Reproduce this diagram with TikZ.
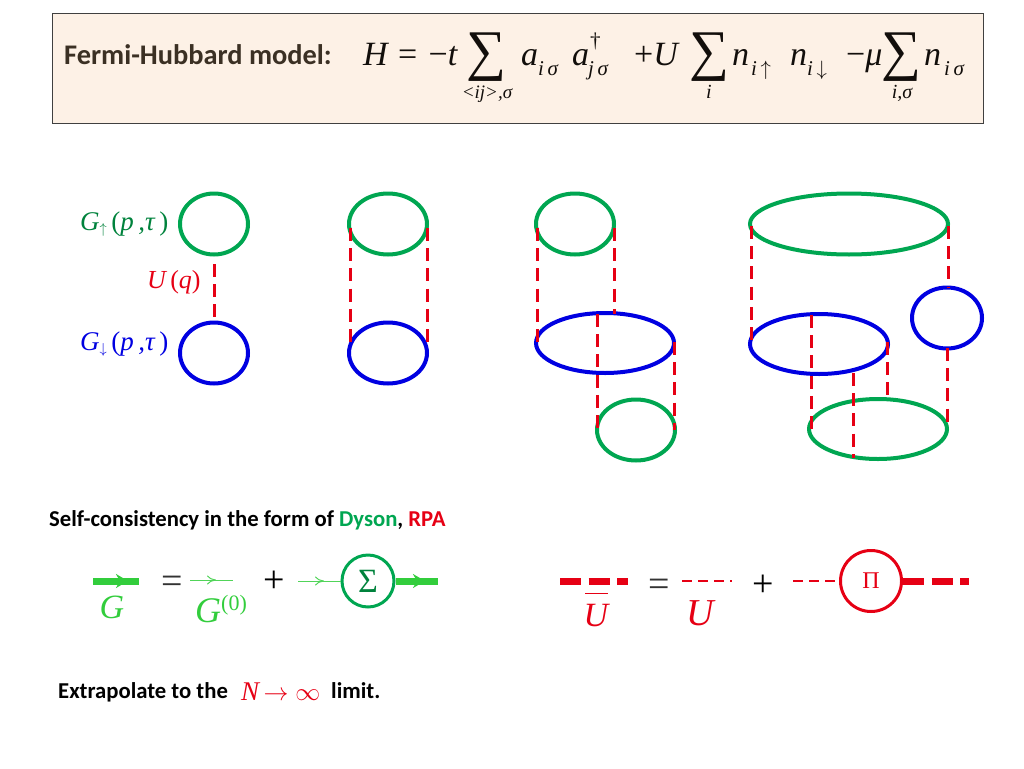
\documentclass[tikz,border=0pt]{standalone}
\usepackage{fontspec}
\usepackage{amsmath}
\setmainfont{Carlito}
\newfontfamily\formula{Liberation Serif}
\usetikzlibrary{shapes.geometric,arrows.meta}
\definecolor{headfill}{RGB}{253,241,230}
\definecolor{headtext}{RGB}{59,48,36}
\definecolor{loopgreen}{RGB}{0,166,81}
\definecolor{labelgreen}{RGB}{0,130,60}
\definecolor{linegreen}{RGB}{50,205,60}
\definecolor{loopblue}{RGB}{0,0,225}
\definecolor{linered}{RGB}{230,0,20}
\newcommand{\fs}[1]{\fontsize{#1}{#1}\selectfont}
\newcommand{\itf}{\formula\itshape}
\tikzset{
	upring/.style={ellipse,draw=loopgreen,line width=4pt,inner sep=0pt,outer sep=0pt},
	downring/.style={ellipse,draw=loopblue,line width=4pt,inner sep=0pt,outer sep=0pt},
	redline/.style={draw=linered,line width=3pt,dash pattern=on 13pt off 7.2pt},
	bold/.style={font=\fs{22.7}\bfseries,anchor=base west,inner sep=0pt},
	eq/.style={font=\fs{34}\itf,anchor=base west,inner sep=0pt,headtext!30!black},
	sub/.style={font=\fs{21}\itf,anchor=base west,inner sep=0pt,headtext!30!black},
	under/.style={font=\fs{20}\itf,anchor=base,inner sep=0pt,headtext!30!black},
	bigsum/.style={font=\fs{56}\formula,inner sep=0pt,headtext!30!black},
	glabel/.style={font=\fs{27}\itf,anchor=base west,inner sep=0pt},
	bigsym/.style={font=\fs{38}\formula,inner sep=0pt},
	gbold/.style={draw=linegreen,line width=7pt},
	gthin/.style={draw=linegreen!85,line width=1pt},
	ghead/.style={draw=linegreen,line width=2pt,-{Stealth[length=12pt,width=14pt]}},
	ubold/.style={draw=linered,line width=7pt,dash pattern=on 21pt off 7.5pt on 21pt off 7.5pt on 11pt off 50pt},
	uthin/.style={draw=linered,line width=1.5pt,dash pattern=on 10pt off 6pt},
}
\begin{document}
\begin{tikzpicture}[x=1pt,y=-1pt]
	\useasboundingbox (0,0) rectangle (1024,768);

	\node[draw=black!75,line width=1pt,fill=headfill,minimum width=931pt,minimum height=109pt,inner sep=0pt] (header) at (517.5,68.5) {};
	\node[font=\fs{28.4}\bfseries,anchor=base west,inner sep=0pt,headtext] (title) at (64,64) {Fermi-Hubbard model:};
	\node[eq] (ham) at (363,66) {H};
	\node[eq] (eqt) at (398,66) {{\upshape =\,\,−}t};
	\node[bigsum] (sumA) at (486,57) {∑};
	\node[under,font=\fs{19}\itf] (subA) at (487,98) {<ij>,σ};
	\node[eq] (aa) at (521,66) {a};
	\node[sub] (aai) at (538,75) {i\,σ};
	\node[eq] (ab) at (572,66) {a};
	\node[sub] (abd) at (590,48) {\upshape †};
	\node[sub] (abj) at (588,75) {j\,σ};
	\node[eq] (plusU) at (634,66) {{\upshape +}U};
	\node[bigsum] (sumB) at (709,57) {∑};
	\node[under] (subB) at (709,98) {i};
	\node[eq] (na) at (732,66) {n};
	\node[sub] (nai) at (751,75) {i\,$\uparrow$};
	\node[eq] (nb) at (790,66) {n};
	\node[sub] (nbi) at (807,75) {i\,$\downarrow$};
	\node[eq] (mu) at (846,66) {{\upshape −}μ};
	\node[bigsum] (sumC) at (901,57) {∑};
	\node[under] (subC) at (902,98) {i,σ};
	\node[eq] (nc) at (924,66) {n};
	\node[sub] (nci) at (944,75) {i\,σ};

	\node[upring,minimum width=68pt,minimum height=61pt] (upA) at (214,224) {};
	\node[downring,minimum width=68pt,minimum height=61pt] (downA) at (214,353) {};
	\node[upring,minimum width=78pt,minimum height=61pt] (upB) at (388,224) {};
	\node[downring,minimum width=78pt,minimum height=61pt] (downB) at (388,353) {};
	\node[upring,minimum width=78pt,minimum height=61pt] (upC) at (575,224) {};
	\node[downring,minimum width=138pt,minimum height=60pt] (downC) at (605,343) {};
	\node[upring,minimum width=78pt,minimum height=61pt] (lowC) at (636,430) {};
	\node[upring,minimum width=198pt,minimum height=61pt] (upD) at (849,224) {};
	\node[downring,minimum width=70pt,minimum height=61pt] (sideD) at (947,318) {};
	\node[downring,minimum width=138pt,minimum height=60pt] (downD) at (819,344) {};
	\node[upring,minimum width=138pt,minimum height=60pt] (lowD) at (878,429) {};

	\coordinate (cC) at (614,314);
	\coordinate (dCa) at (597,314);
	\coordinate (dCb) at (597,430);
	\coordinate (eDa) at (811,315);
	\coordinate (eDb) at (811,430);
	\coordinate (fDa) at (853,373);
	\coordinate (fDb) at (853,458);
	\coordinate (gDa) at (887,342);
	\coordinate (gDb) at (887,400);
	\coordinate (hDa) at (947,348);
	\coordinate (hDb) at (947,428);
	\coordinate (iDa) at (948,226);
	\coordinate (iDb) at (948,288);
	\coordinate (jBa) at (350,228);
	\coordinate (jBb) at (350,342);
	\coordinate (kBa) at (427,228);
	\coordinate (kBb) at (427,342);
	\coordinate (lCa) at (537,228);
	\coordinate (lCb) at (537,342);
	\coordinate (mCa) at (614,228);
	\coordinate (nCa) at (674,342);
	\coordinate (nCb) at (674,430);
	\coordinate (oDa) at (751,226);
	\coordinate (oDb) at (751,342);
	\coordinate (pAa) at (214,264);

	\draw[redline] (pAa) -- (downA.north);
	\draw[redline] (jBa) -- (jBb);
	\draw[redline] (kBa) -- (kBb);
	\draw[redline] (lCa) -- (lCb);
	\draw[redline] (mCa) -- (cC);
	\draw[redline] (dCa) -- (dCb);
	\draw[redline] (nCa) -- (nCb);
	\draw[redline] (oDa) -- (oDb);
	\draw[redline] (iDa) -- (iDb);
	\draw[redline] (eDa) -- (eDb);
	\draw[redline] (fDa) -- (fDb);
	\draw[redline] (gDa) -- (gDb);
	\draw[redline] (hDa) -- (hDb);

	\node[glabel,labelgreen] (gup) at (80,230) {G\raisebox{-3pt}{\fs{14}$\uparrow$}\,{\upshape (}p\,,τ\,{\upshape )}};
	\node[glabel,linered,font=\fs{26}\itf] (uq) at (147,288) {U\,{\upshape (}q{\upshape )}};
	\node[glabel,loopblue] (gdown) at (80,350) {G\raisebox{-3pt}{\fs{14}$\downarrow$}\,{\upshape (}p\,,τ\,{\upshape )}};

	\node[bold,black] (self) at (49,526) {Self-consistency in the form of {\color{loopgreen}Dyson}, {\color{linered}RPA}};

	\coordinate (Ga) at (93,581);
	\coordinate (Gm) at (128,581);
	\coordinate (Gb) at (139,581);
	\draw[gbold] (Ga) -- (Gb);
	\draw[ghead] (Ga) -- (Gm);
	\node[linegreen,font=\fs{34}\itf,anchor=base,inner sep=0pt] (Glab) at (112,618) {G};
	\node[bigsym,black!80] (eqG) at (172,585) {=};
	\coordinate (Ha) at (190,580);
	\coordinate (Hm) at (216,580);
	\coordinate (Hb) at (233,580);
	\draw[gthin] (Ha) -- (Hb);
	\draw[gthin,-{To[length=9pt,width=9pt]}] (Ha) -- (Hm);
	\node[linegreen,font=\fs{36}\itf,anchor=base west,inner sep=0pt] (Gnull) at (195,622) {G\raisebox{12pt}{\fs{22}\upshape (0)}};
	\node[bigsym,black] (plusG) at (274,582) {+};
	\node[circle,draw=loopgreen,line width=3pt,minimum size=52pt,inner sep=0pt,font=\fs{34}\formula,text=labelgreen] (sigma) at (368,581) {Σ};
	\coordinate (Ia) at (298,581);
	\coordinate (Im) at (324,581);
	\draw[gthin] (Ia) -- (sigma.west);
	\draw[gthin,-{To[length=9pt,width=9pt]}] (Ia) -- (Im);
	\coordinate (Jb) at (438,581);
	\coordinate (Jm) at (425,581);
	\draw[gbold] (sigma.east) -- (Jb);
	\draw[ghead] (sigma.east) -- (Jm);

	\coordinate (Ka) at (560,581);
	\coordinate (Kb) at (628,581);
	\draw[ubold] (Ka) -- (Kb);
	\node[linered,font=\fs{34}\itf,anchor=base,inner sep=0pt] (Ubar) at (596,626) {U};
	\coordinate (Ua) at (585,593);
	\coordinate (Ub) at (608,593);
	\draw[draw=linered,line width=1pt] (Ua) -- (Ub);
	\node[bigsym,black!80] (eqU) at (659,588) {=};
	\coordinate (La) at (682,581);
	\coordinate (Lb) at (732,581);
	\draw[uthin] (La) -- (Lb);
	\node[linered,font=\fs{38}\itf,anchor=base,inner sep=0pt] (Ulab) at (700,625) {U};
	\node[bigsym,black] (plusU2) at (763,586) {+};
	\node[circle,draw=linered,line width=3pt,minimum size=61pt,inner sep=0pt,font=\fs{24}\formula,text=linered] (pi) at (871,581) {Π};
	\coordinate (Ma) at (793,581);
	\draw[uthin] (Ma) -- (pi.west);
	\coordinate (Nb) at (969,581);
	\draw[ubold] (pi.east) -- (Nb);

	\node[bold,black] (extra) at (58,698) {Extrapolate to the};
	\node[linered,font=\fs{27}\itf,anchor=base west,inner sep=0pt] (limit) at (241,700) {N\,{\upshape $\to\infty$}};
	\node[bold,black] (limtxt) at (331,698) {limit.};
\end{tikzpicture}
\end{document}
